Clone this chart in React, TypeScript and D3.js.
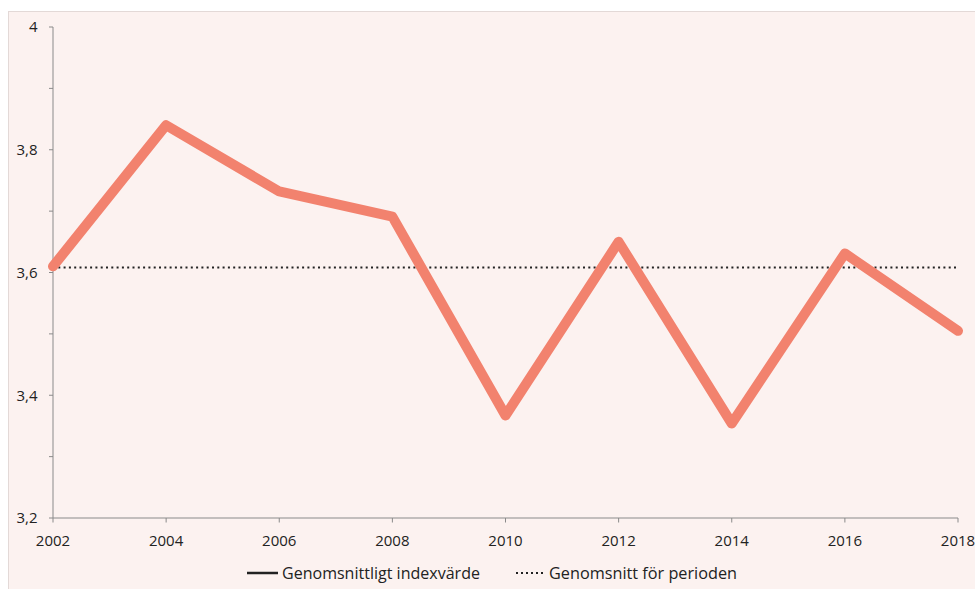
import React from "react";
import * as d3 from "d3";

const years = [2002, 2004, 2006, 2008, 2010, 2012, 2014, 2016, 2018];
const indexValues = [3.61, 3.84, 3.732, 3.691, 3.367, 3.65, 3.354, 3.631, 3.505];
const periodAverage = 3.608;
const yTickValues = [3.2, 3.3, 3.4, 3.5, 3.6, 3.7, 3.8, 3.9, 4.0];
const yLabelValues = [3.2, 3.4, 3.6, 3.8, 4.0];
const legendLabels = ["Genomsnittligt indexvärde", "Genomsnitt för perioden"];

const W = 975;
const H = 589;
const FONT = "'Open Sans', Lato, sans-serif";

export default function App() {
  const x = d3.scaleLinear().domain([2002, 2018]).range([53, 958]);
  const y = d3.scaleLinear().domain([3.2, 4.0]).range([518, 27]);
  const line = d3
    .line<number>()
    .x((_, i) => x(years[i]))
    .y((d) => y(d));
  const fmt = (v: number) => (v === 4 ? "4" : v.toFixed(1).replace(".", ","));
  const axisColor = "#8a8a8a";

  return (
    <svg
      width={W}
      height={H}
      style={{ position: "absolute", left: 0, top: 0, display: "block" }}
    >
      <rect x={8.5} y={11.5} width={W - 8} height={H - 11} fill="#fcf2f0" stroke="#e3d9d7" strokeWidth={1} />
      {/* y axis */}
      <line x1={53} x2={53} y1={y(4)} y2={y(3.2)} stroke={axisColor} strokeWidth={1} />
      {yTickValues.map((v) => (
        <line key={"yt" + v} x1={49} x2={53} y1={y(v)} y2={y(v)} stroke={axisColor} strokeWidth={1} />
      ))}
      {yLabelValues.map((v) => (
        <text
          key={"yl" + v}
          x={37.5}
          y={y(v)}
          dy="0.35em"
          textAnchor="end"
          fontFamily={FONT}
          fontSize={15}
          fill="#222"
        >
          {fmt(v)}
        </text>
      ))}
      {/* x axis */}
      <line x1={x(2002)} x2={x(2018)} y1={518} y2={518} stroke={axisColor} strokeWidth={1} />
      {years.map((yr) => (
        <g key={"xt" + yr}>
          <line x1={x(yr)} x2={x(yr)} y1={518} y2={522.5} stroke={axisColor} strokeWidth={1} />
          <text x={x(yr)} y={545.5} textAnchor="middle" fontFamily={FONT} fontSize={15} fill="#222">
            {yr}
          </text>
        </g>
      ))}
      {/* average line */}
      <line
        x1={x(2002)}
        x2={x(2018)}
        y1={y(periodAverage)}
        y2={y(periodAverage)}
        stroke="#222"
        strokeWidth={2}
        strokeDasharray="2,3.3"
      />
      {/* data line */}
      <path
        d={line(indexValues) || ""}
        fill="none"
        stroke="#f2826e"
        strokeWidth={10}
        strokeLinecap="round"
        strokeLinejoin="round"
      />
      {/* legend */}
      <line x1={247} x2={278} y1={573} y2={573} stroke="#222" strokeWidth={2.5} />
      <text x={282} y={578.5} fontFamily={FONT} fontSize={15.5} fill="#222" textLength={198} lengthAdjust="spacingAndGlyphs">
        {legendLabels[0]}
      </text>
      <line x1={516} x2={546} y1={573} y2={573} stroke="#222" strokeWidth={2} strokeDasharray="2,3" />
      <text x={549} y={578.5} fontFamily={FONT} fontSize={15.5} fill="#222" textLength={188} lengthAdjust="spacingAndGlyphs">
        {legendLabels[1]}
      </text>
    </svg>
  );
}
